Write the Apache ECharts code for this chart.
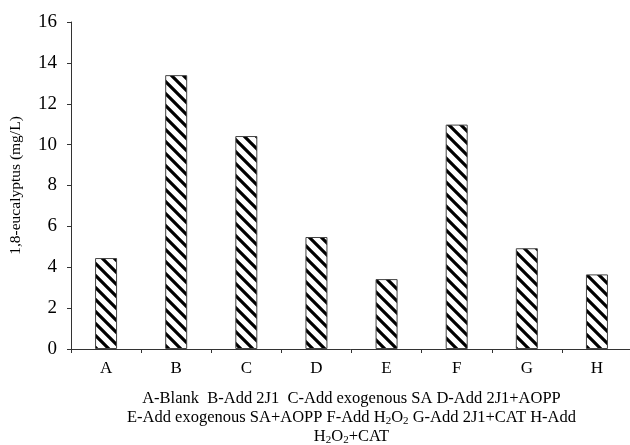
<!DOCTYPE html>
<html>
<head>
<meta charset="utf-8">
<script src="https://cdn.jsdelivr.net/npm/echarts@6/dist/echarts.min.js"></script>
<style>
  html, body { margin: 0; padding: 0; background: #fff; }
  #chart { width: 630px; height: 445px; }
</style>
</head>
<body>
<div id="chart"></div>
<script>
var categories = ['A', 'B', 'C', 'D', 'E', 'F', 'G', 'H']
var eucalyptus = [4.45, 13.4, 10.42, 5.48, 3.42, 10.98, 4.93, 3.65]
var yTicks = { min: 0, max: 16, step: 2 }
var yName = '1,8-eucalyptus (mg/L)'
// caption under the axis, {s|..} is a subscript
var caption = [
  '{t|A-Blank  B-Add 2J1  C-Add exogenous SA D-Add 2J1+AOPP}',
  '{t|E-Add exogenous SA+AOPP F-Add H}{s|2}{t|O}{s|2}{t| G-Add 2J1+CAT H-Add}',
  '{t|H}{s|2}{t|O}{s|2}{t|+CAT}'
].join('\n')

var font = '"Liberation Serif", "Times New Roman", serif'

// diagonal hatch fill for the bars
function makeHatch () {
  var size = 12
  var c = document.createElement('canvas')
  c.width = size
  c.height = size
  var ctx = c.getContext('2d')
  ctx.fillStyle = '#fff'
  ctx.fillRect(0, 0, size, size)
  ctx.strokeStyle = '#000'
  ctx.lineWidth = 3.2
  ctx.beginPath()
  for (var k = -1; k <= 1; k++) {
    ctx.moveTo(k * size - 2, -2)
    ctx.lineTo(k * size + size + 2, size + 2)
  }
  ctx.stroke()
  return c
}

var myChart = echarts.init(document.getElementById('chart'))
var option = {
  animation: false,
  backgroundColor: '#fff',
  grid: {
    left: 71,
    right: -2,
    top: 22,
    bottom: 96,
    containLabel: false,
    outerBoundsMode: 'none'
  },
  xAxis: {
    type: 'category',
    data: categories,
    axisLine: { lineStyle: { color: '#333', width: 1 } },
    axisTick: { show: true, length: 4, lineStyle: { color: '#333' } },
    axisLabel: {
      color: '#000',
      fontFamily: font,
      fontSize: 17,
      margin: 11
    },
    name: caption,
    nameLocation: 'middle',
    nameGap: 40,
    nameTextStyle: {
      rich: {
        t: { fontFamily: font, fontSize: 16.5, color: '#000', lineHeight: 19 },
        s: { fontFamily: font, fontSize: 11, color: '#000', lineHeight: 10, verticalAlign: 'bottom' }
      }
    }
  },
  yAxis: {
    type: 'value',
    min: yTicks.min,
    max: yTicks.max,
    interval: yTicks.step,
    splitLine: { show: false },
    axisLine: { show: true, lineStyle: { color: '#333', width: 1 } },
    axisTick: { show: true, length: 4, lineStyle: { color: '#333' } },
    axisLabel: {
      color: '#000',
      fontFamily: font,
      fontSize: 19,
      margin: 14
    },
    name: yName,
    nameLocation: 'middle',
    nameGap: 47,
    nameTextStyle: {
      color: '#000',
      fontFamily: font,
      fontSize: 15.5
    }
  },
  series: [
    {
      type: 'bar',
      data: eucalyptus,
      barWidth: 22,
      itemStyle: {
        color: { image: makeHatch(), repeat: 'repeat' },
        borderColor: '#444',
        borderWidth: 1
      }
    }
  ]
}
myChart.setOption(option)
</script>
</body>
</html>
